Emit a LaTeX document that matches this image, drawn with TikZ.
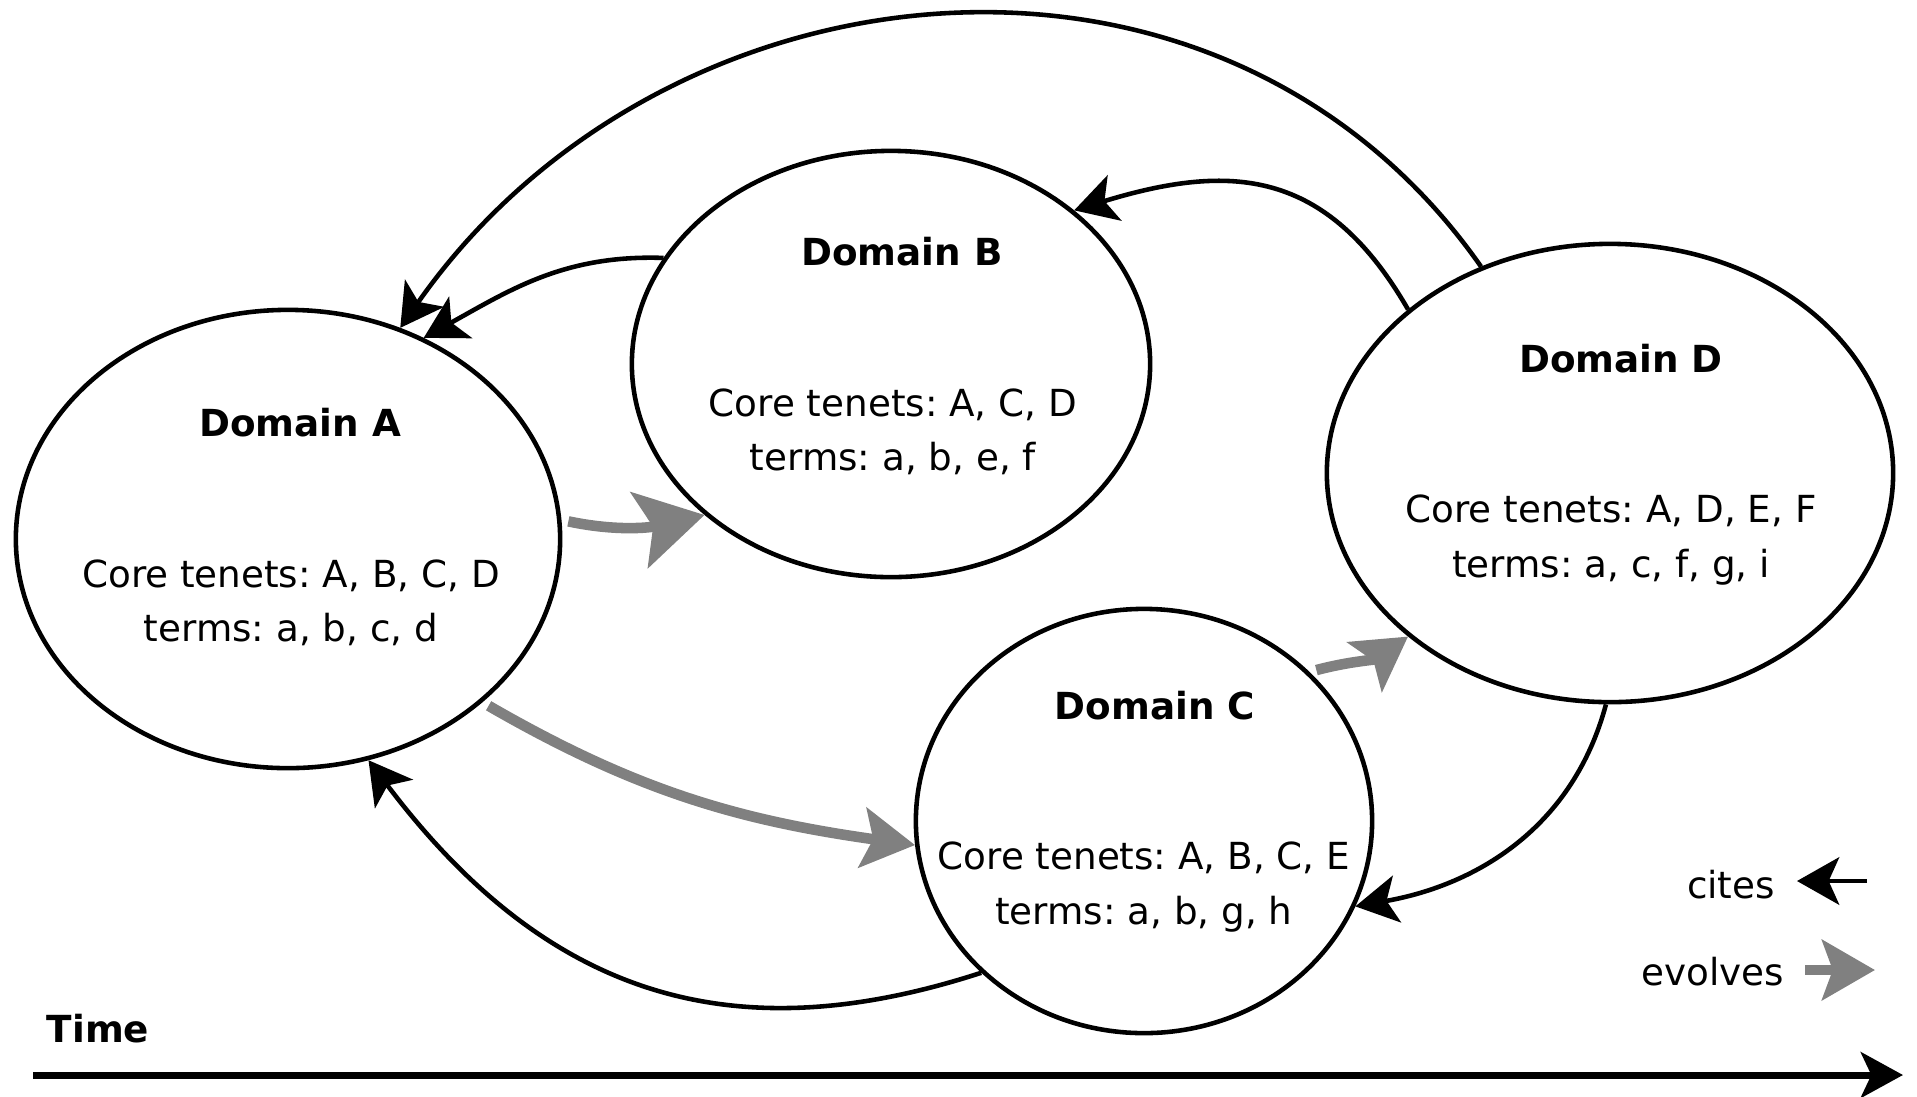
\documentclass[tikz,border=0pt]{standalone}
\usepackage{fontspec}
\setmainfont{DejaVu Sans}
\usepackage{tikz}
\usetikzlibrary{shapes.geometric}
\usetikzlibrary{arrows.meta}
\definecolor{evolvegray}{RGB}{128,128,128}
\newcommand{\txtsize}{\fontsize{10.6}{15.4}\selectfont}
\frenchspacing

\begin{document}
\begin{tikzpicture}[x=0.01cm, y=-0.01cm,
	domainbox/.style={draw, ellipse, line width=1.3pt, inner sep=0pt},
	titletext/.style={font=\txtsize\bfseries},
	tenets/.style={font=\txtsize, align=center},
	cites/.style={line width=1.3pt, -{Stealth[length=12pt, width=13.5pt, inset=3pt]}},
	evolves/.style={evolvegray, line width=3pt, shorten <=2pt, -{Stealth[length=15pt, width=17pt, inset=3pt]}}]
	\useasboundingbox (0,0) rectangle (1917,1096);
	\node[domainbox, minimum width=5.44cm, minimum height=4.58cm] (A) at (288,539) {};
	\node[domainbox, minimum width=5.18cm, minimum height=4.26cm] (B) at (891,364) {};
	\node[domainbox, minimum width=4.56cm, minimum height=4.24cm] (C) at (1144,821) {};
	\node[domainbox, minimum width=5.66cm, minimum height=4.58cm] (D) at (1610,473) {};
	\node[titletext] (A title) at (300,423) {Domain A};
	\node[tenets] (A text) at (291,603) {Core tenets: A, B, C, D\\terms: a, b, c, d};
	\node[titletext] (B title) at (902,252) {Domain B};
	\node[tenets] (B text) at (893,432) {Core tenets: A, C, D\\terms: a, b, e, f};
	\node[titletext] (C title) at (1155,706) {Domain C};
	\node[tenets] (C text) at (1144,887) {Core tenets: A, B, C, E\\terms: a, b, g, h};
	\node[titletext] (D title) at (1621,359) {Domain D};
	\node[tenets] (D text) at (1611,540) {Core tenets: A, D, E, F\\terms: a, c, f, g, i};
	% cites
	\draw[cites] (D.122) to[out=125, in=55, looseness=1.08] (A.62);
	\draw[cites] (B.155) to[out=178, in=29] (A.56);
	\draw[cites] (D.141) to[out=120, in=17, looseness=1.2] (B.40);
	\draw[cites] (C.223) to[out=198, in=-53, out looseness=1, in looseness=1.2] (A.290);
	\draw[cites] (D.269) to[out=-105, in=10] (C.338);
	% evolves
	\draw[evolves, -{Stealth[length=19pt, width=22pt, inset=4pt]}] (A.4) to[out=-12, in=193] (B.219);
	\draw[evolves] (A.320) to[out=-30, in=172] (C.186);
	\draw[evolves] (C.42) to[out=15, in=215] (D.219);
	% legend
	\node[font=\txtsize] (cites label) at (1731,885) {cites};
	\coordinate (cites from) at (1867,881);
	\coordinate (cites to) at (1797,881);
	\draw[cites] (cites from) -- (cites to);
	\node[font=\txtsize] (evolves label) at (1713,972) {evolves};
	\coordinate (evolves from) at (1805,970);
	\coordinate (evolves to) at (1875,970);
	\draw[evolves, shorten <=0pt] (evolves from) -- (evolves to);
	% time
	\node[titletext] (time label) at (98,1029) {Time};
	\coordinate (time start) at (33,1075);
	\coordinate (time end) at (1903,1075);
	\draw[line width=2pt, -{Stealth[length=12pt, width=13pt, inset=3pt]}] (time start) -- (time end);
\end{tikzpicture}
\end{document}
